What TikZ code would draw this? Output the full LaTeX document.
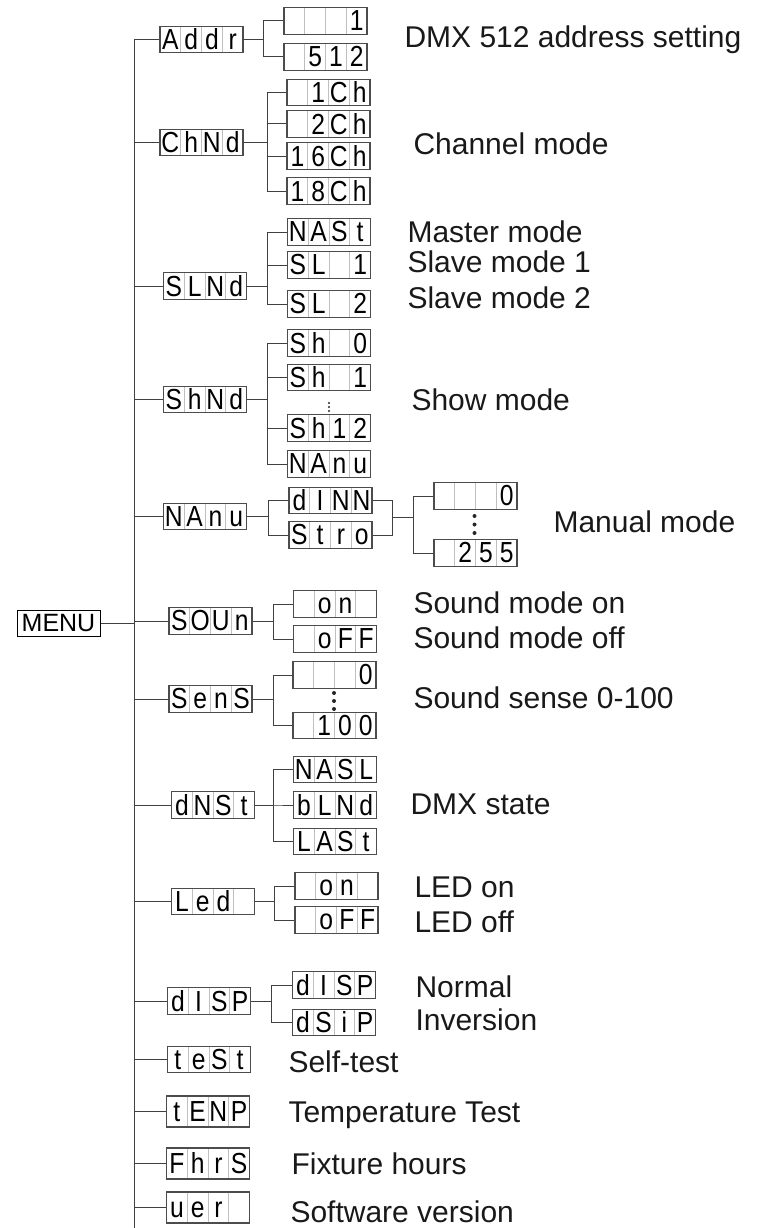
\documentclass[tikz,border=0pt]{standalone}
\usepackage{fontspec}
\usepackage{graphicx}
\setmainfont{Liberation Sans}
\usetikzlibrary{calc}

\newlength{\cellw}
\setlength{\cellw}{20.75pt}
\newcommand{\segcell}[1]{\makebox[\cellw]{\vphantom{0}\scalebox{0.85}[1]{#1}}}
\newcommand{\segtext}[4]{\fontsize{29}{29}\selectfont\segcell{#1}\segcell{#2}\segcell{#3}\segcell{#4}}

\begin{document}
\begin{tikzpicture}[x=1pt, y=-1pt,
  link/.style={draw=black!75, line width=1pt},
  lcd/.style={draw=black!70, line width=1.1pt, inner sep=0pt, minimum width=83pt, minimum height=26.5pt,
    path picture={\foreach \f in {0.25,0.5,0.75}
      \draw[black!25, line width=0.8pt] ($(path picture bounding box.south west)!\f!(path picture bounding box.south east)$)
        -- ($(path picture bounding box.north west)!\f!(path picture bounding box.north east)$);}},
  note/.style={anchor=base west, font=\fontsize{30}{32}\selectfont, text=black!90},
  dotmark/.style={fill=black!85}]
\useasboundingbox (0,0) rectangle (767,1228);

% menu and trunk
\node[draw=black, line width=1pt, minimum width=83pt, minimum height=26pt, inner sep=0pt,
  font=\fontsize{25}{25}\selectfont] (menu) at (58.5,623) {MENU};
\coordinate (trunktop) at (134,39.5);
\coordinate (trunkbot) at (134,1228);
\draw[link] (trunktop) -- (trunkbot);
\draw[link] (menu.east) -- (trunktop |- menu.east);

% first level
\node[lcd] (addr) at (201.5,39.5) {\segtext{A}{d}{d}{r}};
\node[lcd] (chmd) at (201.5,142.5) {\segtext{C}{h}{N}{d}};
\node[lcd] (slmd) at (205,286) {\segtext{S}{L}{N}{d}};
\node[lcd] (shmd) at (205,399.5) {\segtext{S}{h}{N}{d}};
\node[lcd] (manu) at (205,516.5) {\segtext{N}{A}{n}{u}};
\node[lcd] (soun) at (210.5,621) {\segtext{S}{O}{U}{n}};
\node[lcd] (sens) at (210.5,699) {\segtext{S}{e}{n}{S}};
\node[lcd] (dmst) at (213,805) {\segtext{d}{N}{S}{t}};
\node[lcd] (led) at (213,901.5) {\segtext{L}{e}{d}{}};
\node[lcd] (disp) at (209,1001) {\segtext{d}{I}{S}{P}};
\node[lcd] (test) at (209,1059.5) {\segtext{t}{e}{S}{t}};
\node[lcd, minimum height=31pt] (temp) at (208,1111.5) {\segtext{t}{E}{N}{P}};
\node[lcd, minimum height=31pt] (fhrs) at (208,1163.5) {\segtext{F}{h}{r}{S}};
\node[lcd, minimum height=31pt] (uer) at (208,1207.5) {\segtext{u}{e}{r}{}};
\foreach \n in {addr,chmd,slmd,shmd,manu,soun,sens,dmst,led,disp,test,temp,fhrs,uer}
  \draw[link] (trunktop |- \n.west) -- (\n.west);

% address
\node[lcd] (addr1) at (325.5,21) {\segtext{}{}{}{1}};
\node[lcd] (addr512) at (325.5,57) {\segtext{}{5}{1}{2}};
\foreach \c in {addr1,addr512}
  \draw[link] (addr.east) -- ++(20,0) |- (\c.west);

% channel mode
\node[lcd] (ch1) at (328.5,92.5) {\segtext{}{1}{C}{h}};
\node[lcd] (ch2) at (328.5,124) {\segtext{}{2}{C}{h}};
\node[lcd] (ch16) at (328.5,156) {\segtext{1}{6}{C}{h}};
\node[lcd] (ch18) at (328.5,191) {\segtext{1}{8}{C}{h}};
\foreach \c in {ch1,ch2,ch16,ch18}
  \draw[link] (chmd.east) -- ++(24,0) |- (\c.west);

% master / slave
\node[lcd] (mast) at (329,232) {\segtext{N}{A}{S}{t}};
\node[lcd] (slone) at (329,265) {\segtext{S}{L}{}{1}};
\node[lcd] (sltwo) at (329,304) {\segtext{S}{L}{}{2}};
\foreach \c in {mast,slone,sltwo}
  \draw[link] (slmd.east) -- ++(20,0) |- (\c.west);

% show mode
\node[lcd] (show0) at (329,343) {\segtext{S}{h}{}{0}};
\node[lcd] (show1) at (329,377.5) {\segtext{S}{h}{}{1}};
\node[lcd] (show12) at (329,428) {\segtext{S}{h}{1}{2}};
\node[lcd] (showman) at (329,464) {\segtext{N}{A}{n}{u}};
\foreach \c in {show0,show1,show12,showman}
  \draw[link] (shmd.east) -- ++(20,0) |- (\c.west);
\foreach \y in {403,407,411}
  \fill[dotmark] (329,\y) circle (1.1);

% manual mode
\node[lcd] (dimm) at (330.5,500.5) {\segtext{d}{I}{N}{N}};
\node[lcd] (stro) at (330.5,535) {\segtext{S}{t}{r}{o}};
\foreach \c in {dimm,stro}
  \draw[link] (manu.east) -- ++(21,0) |- (\c.west);
\draw[link] (dimm.east) -- ++(20,0) |- (stro.east);
\coordinate (mjoin) at ($(dimm.east)!0.5!(stro.east)+(20,0)$);
\node[lcd] (val0) at (475.5,496) {\segtext{}{}{}{0}};
\node[lcd] (val255) at (475.5,553) {\segtext{}{2}{5}{5}};
\foreach \c in {val0,val255}
  \draw[link] (mjoin) -- ++(21,0) |- (\c.west);
\foreach \y in {516,524.5,533}
  \fill[dotmark] (474.5,\y) circle (2);

% sound
\node[lcd] (sndon) at (335,604) {\segtext{}{o}{n}{}};
\node[lcd] (sndoff) at (335,639) {\segtext{}{o}{F}{F}};
\foreach \c in {sndon,sndoff}
  \draw[link] (soun.east) -- ++(21,0) |- (\c.west);

% sound sense
\node[lcd] (sens0) at (334.5,675) {\segtext{}{}{}{0}};
\node[lcd] (sens100) at (334.5,725.5) {\segtext{}{1}{0}{0}};
\foreach \c in {sens0,sens100}
  \draw[link] (sens.east) -- ++(21,0) |- (\c.west);
\foreach \y in {693,701,709}
  \fill[dotmark] (334,\y) circle (2);

% dmx state
\node[lcd] (masl) at (335,769.5) {\segtext{N}{A}{S}{L}};
\node[lcd] (blnd) at (335,805) {\segtext{b}{L}{N}{d}};
\node[lcd] (last) at (335,841.5) {\segtext{L}{A}{S}{t}};
\foreach \c in {masl,blnd,last}
  \draw[link] (dmst.east) -- ++(18,0) |- (\c.west);

% led
\node[lcd] (ledon) at (336.5,886) {\segtext{}{o}{n}{}};
\node[lcd] (ledoff) at (336.5,920) {\segtext{}{o}{F}{F}};
\foreach \c in {ledon,ledoff}
  \draw[link] (led.east) -- ++(19,0) |- (\c.west);

% display
\node[lcd] (dispn) at (334,985) {\segtext{d}{I}{S}{P}};
\node[lcd] (dispi) at (334,1022.5) {\segtext{d}{S}{i}{P}};
\foreach \c in {dispn,dispi}
  \draw[link] (disp.east) -- ++(20,0) |- (\c.west);

% descriptions
\node[note] (txaddr) at (401,48) {DMX 512 address setting};
\node[note] (txch) at (410,154) {Channel mode};
\node[note] (txmast) at (404,242) {Master mode};
\node[note] (txsl1) at (404,272) {Slave mode 1};
\node[note] (txsl2) at (404,308) {Slave mode 2};
\node[note] (txshow) at (408,410) {Show mode};
\node[note] (txman) at (550,532) {Manual mode};
\node[note] (txsndon) at (410,613) {Sound mode on};
\node[note] (txsndoff) at (410,648) {Sound mode off};
\node[note] (txsens) at (410,708) {Sound sense 0-100};
\node[note] (txdmx) at (407,814) {DMX state};
\node[note] (txledon) at (411,897) {LED on};
\node[note] (txledoff) at (411,932) {LED off};
\node[note] (txnorm) at (412,997) {Normal};
\node[note] (txinv) at (412,1030) {Inversion};
\node[note] (txtest) at (285,1072) {Self-test};
\node[note] (txtemp) at (285,1122) {Temperature Test};
\node[note] (txhours) at (288,1174) {Fixture hours};
\node[note] (txver) at (287,1222) {Software version};
\end{tikzpicture}
\end{document}
